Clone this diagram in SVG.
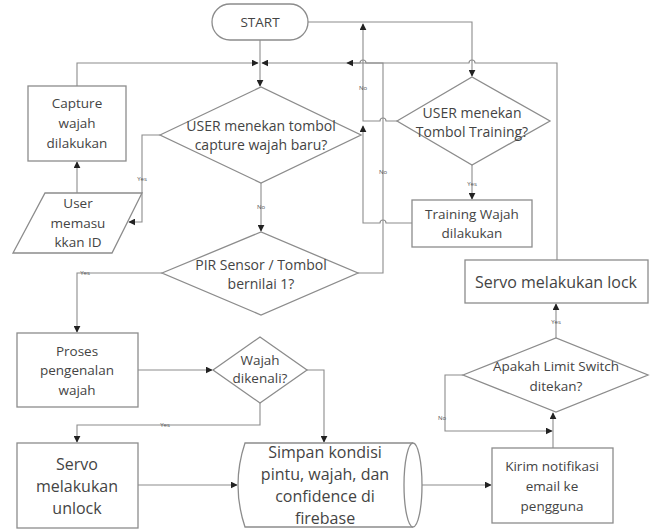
<svg xmlns="http://www.w3.org/2000/svg" width="653" height="531" viewBox="0 0 653 531">
<style>
.s{fill:#fff;stroke:#8c8c8c;stroke-width:1.3}
.c{fill:none;stroke:#8c8c8c;stroke-width:1.1}
.t{font-family:"Open Sans","Noto Sans",sans-serif;font-size:13.5px;fill:#444;text-anchor:middle}
.d{font-size:14px}
.b{font-size:16px}
.l{font-family:"Open Sans","Noto Sans",sans-serif;font-size:6px;fill:#555;text-anchor:middle}
</style>
<defs>
<marker id="a" viewBox="0 0 10 10" refX="9" refY="5" markerWidth="7" markerHeight="7" markerUnits="userSpaceOnUse" orient="auto">
<path d="M0,0 L10,5 L0,10 z" fill="#222"/>
</marker>
</defs>
<rect width="653" height="531" fill="#fff"/>
<g id="connectors">
<path class="c" d="M260,40 V86" marker-end="url(#a)"/>
<path class="c" d="M77,86 V63 H258" marker-end="url(#a)"/>
<path class="c" d="M557,260 V63 H475 A3,3 0 0 0 469,63 H366 A3,3 0 0 0 360,63 H262" marker-end="url(#a)"/>
<path class="c" d="M308,22 H472 V76" marker-end="url(#a)"/>
<path class="c" d="M397,121 H386 A3,3 0 0 0 380,121 H363 V24" marker-end="url(#a)"/>
<path class="c" d="M412,223 H386 A3,3 0 0 0 380,223 H363 V126" marker-end="url(#a)"/>
<path class="c" d="M358,273 H383 V63 H347" marker-end="url(#a)"/>
<path class="c" d="M472,165 V199" marker-end="url(#a)"/>
<path class="c" d="M160,135 H142 V222 H129" marker-end="url(#a)"/>
<path class="c" d="M77,193 V162" marker-end="url(#a)"/>
<path class="c" d="M261,183 V231" marker-end="url(#a)"/>
<path class="c" d="M162,273 H77 V332" marker-end="url(#a)"/>
<path class="c" d="M138,370 H212" marker-end="url(#a)"/>
<path class="c" d="M307,370 H324 V442" marker-end="url(#a)"/>
<path class="c" d="M260,403 V425 H77 V442" marker-end="url(#a)"/>
<path class="c" d="M138,485 H237" marker-end="url(#a)"/>
<path class="c" d="M413,485 H491" marker-end="url(#a)"/>
<path class="c" d="M553,448 V413" marker-end="url(#a)"/>
<path class="c" d="M463,375 H445 V431 H552" marker-end="url(#a)"/>
<path class="c" d="M556,338 V304" marker-end="url(#a)"/>
<text class="l" x="142" y="181">Yes</text>
<text class="l" x="261" y="209">No</text>
<text class="l" x="85" y="275">Yes</text>
<text class="l" x="363" y="90">No</text>
<text class="l" x="383" y="174">No</text>
<text class="l" x="472" y="186">Yes</text>
<text class="l" x="165" y="427">Yes</text>
<text class="l" x="442" y="420">No</text>
<text class="l" x="556" y="324">Yes</text>
</g>
<g id="start">
<rect class="s" x="212" y="4" width="96" height="36" rx="18"/>
<text class="t" x="260" y="27">START</text>
</g>
<g id="capture">
<rect class="s" x="28" y="86" width="98" height="75"/>
<text class="t" x="77" y="108">Capture</text>
<text class="t" x="77" y="128">wajah</text>
<text class="t" x="77" y="148">dilakukan</text>
</g>
<g id="dec-capture">
<polygon class="s" points="160,135 261,87 361,135 261,183"/>
<text class="t d" x="261" y="131">USER menekan tombol</text>
<text class="t d" x="261" y="150">capture wajah baru?</text>
</g>
<g id="input-id">
<polygon class="s" points="45,193 142,193 112,253 13,253"/>
<text class="t" x="78" y="208">User</text>
<text class="t" x="78" y="228">memasu</text>
<text class="t" x="78" y="247">kkan ID</text>
</g>
<g id="dec-training">
<polygon class="s" points="397,121 472,77 550,121 472,165"/>
<text class="t d" x="472" y="118">USER menekan</text>
<text class="t d" x="472" y="137">Tombol Training?</text>
</g>
<g id="training">
<rect class="s" x="412" y="200" width="120" height="47"/>
<text class="t" x="472" y="219">Training Wajah</text>
<text class="t" x="472" y="238">dilakukan</text>
</g>
<g id="dec-pir">
<polygon class="s" points="162,273 261,232 358,273 261,315"/>
<text class="t d" x="261" y="270">PIR Sensor / Tombol</text>
<text class="t d" x="261" y="289">bernilai 1?</text>
</g>
<g id="servo-lock">
<rect class="s" x="465" y="260" width="183" height="43"/>
<text class="t b" x="556" y="288">Servo melakukan lock</text>
</g>
<g id="proses">
<rect class="s" x="17" y="333" width="121" height="74"/>
<text class="t" x="77" y="356">Proses</text>
<text class="t" x="77" y="375">pengenalan</text>
<text class="t" x="77" y="395">wajah</text>
</g>
<g id="dec-wajah">
<polygon class="s" points="213,370 260,337 307,370 260,403"/>
<text class="t" x="260" y="365">Wajah</text>
<text class="t" x="260" y="383">dikenali?</text>
</g>
<g id="dec-limit">
<polygon class="s" points="463,375 556,338 648,375 556,412"/>
<text class="t" x="556" y="371">Apakah Limit Switch</text>
<text class="t" x="556" y="391">ditekan?</text>
</g>
<g id="servo-unlock">
<rect class="s" x="17" y="443" width="121" height="85"/>
<text class="t b" x="77" y="470">Servo</text>
<text class="t b" x="77" y="492">melakukan</text>
<text class="t b" x="77" y="514">unlock</text>
</g>
<g id="simpan">
<path class="s" d="M413,443 H245 Q231,485 245,527 H413"/>
<ellipse class="s" cx="413" cy="485" rx="9" ry="42"/>
<text class="t b" x="325" y="458">Simpan kondisi</text>
<text class="t b" x="325" y="480">pintu, wajah, dan</text>
<text class="t b" x="325" y="502">confidence di</text>
<text class="t b" x="325" y="524">firebase</text>
</g>
<g id="kirim">
<rect class="s" x="492" y="448" width="121" height="75"/>
<text class="t" x="552" y="471">Kirim notifikasi</text>
<text class="t" x="552" y="491">email ke</text>
<text class="t" x="552" y="511">pengguna</text>
</g>
</svg>
